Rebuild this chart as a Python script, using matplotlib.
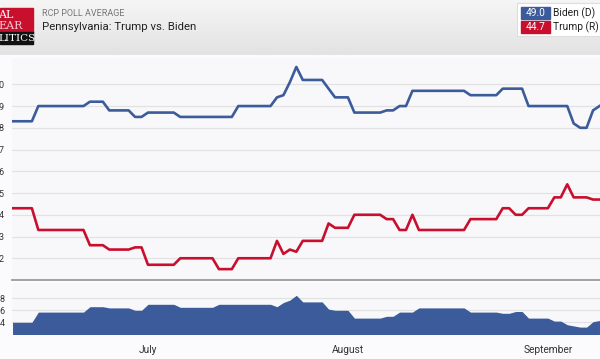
import numpy as np
import pandas as pd
import matplotlib
matplotlib.use("Agg")
import matplotlib.pyplot as plt
import matplotlib.dates as mdates
from matplotlib.patches import Rectangle

plt.rcParams['font.family'] = ['Roboto', 'DejaVu Sans']

# RCP poll average, Pennsylvania
dates = ["06-10", "06-13", "06-14", "06-21", "06-22", "06-24", "06-25", "06-28",
         "06-29", "06-30", "07-01", "07-05", "07-06", "07-11", "07-12", "07-14",
         "07-15", "07-20", "07-21", "07-22", "07-23", "07-24", "07-25", "07-28",
         "07-29", "07-30", "08-01", "08-02", "08-06", "08-07", "08-08", "08-09",
         "08-10", "08-11", "08-12", "08-19", "08-20", "08-24", "08-25", "08-26",
         "08-27", "08-28", "08-29", "09-01", "09-02", "09-03", "09-04", "09-05",
         "09-06", "09-07", "09-08", "09-09"]
biden = [48.3, 48.3, 49.0, 49.0, 49.2, 49.2, 48.8, 48.8,
         48.5, 48.5, 48.7, 48.7, 48.5, 48.5, 48.5, 48.5,
         49.0, 49.0, 49.4, 49.5, 50.1, 50.8, 50.2, 50.2,
         49.8, 49.4, 49.4, 48.7, 48.7, 48.8, 48.8, 49.0,
         49.0, 49.7, 49.7, 49.7, 49.5, 49.5, 49.8, 49.8,
         49.8, 49.8, 49.0, 49.0, 49.0, 49.0, 49.0, 48.2,
         48.0, 48.0, 48.8, 49.0]
trump = [44.3, 44.3, 43.3, 43.3, 42.6, 42.6, 42.4, 42.4,
         42.5, 42.5, 41.7, 41.7, 42.0, 42.0, 41.5, 41.5,
         42.0, 42.0, 42.8, 42.2, 42.4, 42.3, 42.8, 42.8,
         43.6, 43.4, 43.4, 44.0, 44.0, 43.8, 43.8, 43.3,
         43.3, 44.0, 43.3, 43.3, 43.8, 43.8, 44.3, 44.3,
         44.0, 44.0, 44.3, 44.3, 44.8, 44.8, 45.4, 44.8,
         44.8, 44.8, 44.7, 44.7]
month_ticks = ["2020-07-01", "2020-08-01", "2020-09-01"]
month_labels = ["July", "August", "September"]

BLUE = "#3b5b9b"
RED = "#c8102e"

x = mdates.date2num(pd.to_datetime(["2020-" + d for d in dates]))
spread = np.array(biden) - np.array(trump)
jul1 = mdates.date2num(pd.Timestamp("2020-07-01"))

W, H = 600, 359
fig = plt.figure(figsize=(6, 3.59), dpi=100)
fig.patch.set_facecolor("#fbfbfd")

def fx(px):
    return px / W

def fy(py):
    return 1 - py / H

left = fx(11.7)

# header band
hdr = fig.add_axes([0, fy(55), 1, 55 / H])
grad = np.linspace(0, 1, 50).reshape(-1, 1)
hdr.imshow(grad, aspect="auto", cmap=matplotlib.colors.LinearSegmentedColormap.from_list(
    "g", ["#f5f5f5", "#e3e3e3"]), extent=[0, W, 55, 0])
hdr.set_xlim(0, W)
hdr.set_ylim(55, 0)
hdr.axis("off")
# logo (cropped at the left edge, as in the screenshot)
hdr.add_patch(Rectangle((0, 8), 33, 25, color="#c8102e"))
hdr.add_patch(Rectangle((0, 32), 33, 12, color="#111111"))
hdr.text(-2, 15, "AL", color="white", fontsize=8, family="DejaVu Serif", va="center")
hdr.text(-2, 26, "EAR", color="#f6c9cf", fontsize=8, family="DejaVu Serif", va="center")
hdr.text(-2, 38.5, "LITICS", color="white", fontsize=7.5, family="DejaVu Serif", va="center")
hdr.text(42, 13, "RCP POLL AVERAGE", color="#777777", fontsize=6.5, va="center")
hdr.text(42, 27, "Pennsylvania: Trump vs. Biden", color="#222222", fontsize=8.2, va="center")
# legend box
hdr.add_patch(Rectangle((517, 3), 90, 33, facecolor="white", edgecolor="#dddddd", lw=0.8))
hdr.add_patch(Rectangle((521, 7), 29, 12, color=BLUE))
hdr.add_patch(Rectangle((521, 21), 29, 12, color=RED))
hdr.text(535.5, 13.3, f"{biden[-1]:.1f}", color="white", fontsize=7.3, ha="center", va="center")
hdr.text(535.5, 27.3, f"{trump[-1]:.1f}", color="white", fontsize=7.3, ha="center", va="center")
hdr.text(553, 13.3, "Biden (D)", color="#222222", fontsize=7.4, va="center")
hdr.text(553, 27.3, "Trump (R)", color="#222222", fontsize=7.4, va="center")

xlim = (jul1 - 21.13, jul1 + 70.08)

# main chart
ax = fig.add_axes([left, fy(280), 1 - left, (280 - 58) / H])
ax.set_facecolor("#f8f8fb")
ax.plot(x, biden, color=BLUE, lw=1.9, solid_joinstyle="round", zorder=3)
ax.plot(x, trump, color=RED, lw=1.9, solid_joinstyle="round", zorder=3)
ax.set_xlim(xlim)
ax.set_ylim(41.0, 51.21)
ax.set_yticks(range(42, 51))
ax.grid(axis="y", color="#e2e2e2", lw=0.9)
ax.set_xticks([])
for s in ["top", "right", "left"]:
    ax.spines[s].set_visible(False)
ax.spines["bottom"].set_color("#9a9a9a")
ax.spines["bottom"].set_linewidth(1.3)
ax.tick_params(axis="y", length=0, pad=5, labelsize=6.5, labelcolor="#333333")

# spread chart
ax2 = fig.add_axes([left, fy(334), 1 - left, (334 - 283) / H])
ax2.set_facecolor("#f8f8fb")
ax2.fill_between(x, 0, spread, color=BLUE, lw=0, zorder=3)
ax2.set_xlim(xlim)
ax2.set_ylim(2.05, 10.55)
ax2.set_yticks([4, 6, 8])
ax2.grid(axis="y", color="#e2e2e2", lw=0.9)
ax2.set_xticks(mdates.date2num(pd.to_datetime(month_ticks)))
ax2.set_xticklabels(month_labels)
for s in ax2.spines.values():
    s.set_visible(False)
ax2.tick_params(axis="y", length=0, pad=5, labelsize=6.5, labelcolor="#333333")
ax2.tick_params(axis="x", length=0, pad=8, labelsize=7.3, labelcolor="#333333")

fig.savefig("out.png", dpi=100, facecolor=fig.get_facecolor())
